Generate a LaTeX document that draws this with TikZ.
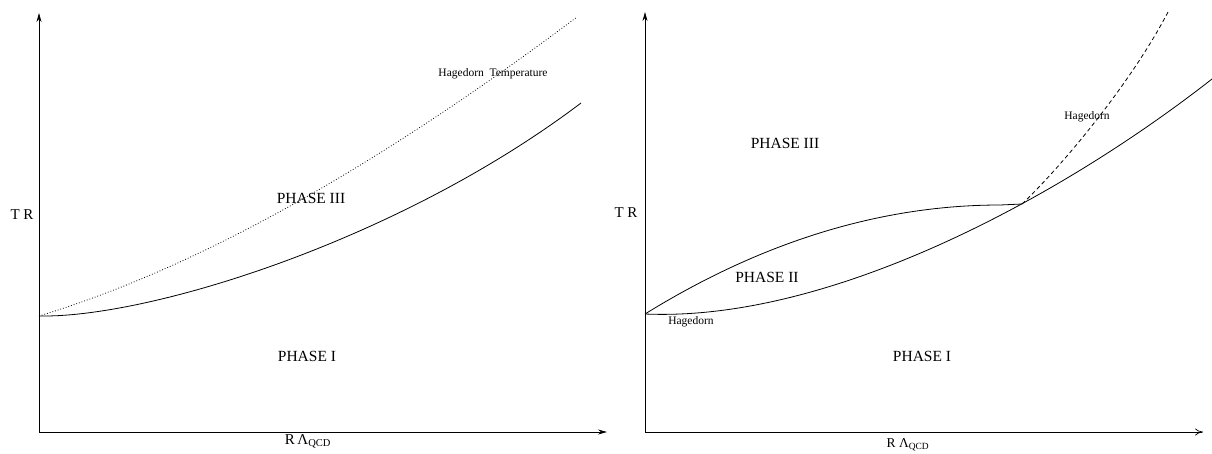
\documentclass[tikz,border=0pt]{standalone}
\usepackage{fontspec}
\setmainfont{Liberation Serif}
\usetikzlibrary{arrows.meta}

\begin{document}
\begin{tikzpicture}[
  x=1pt,y=-1pt,
  >={Stealth[length=9pt,width=5pt,inset=3pt]},
  axis/.style={->,line width=0.7pt,black},
  openaxis/.style={-{To[length=8pt,width=7pt]},line width=0.7pt,black},
  curve/.style={line width=0.8pt,black},
  hagedorn/.style={curve,dash pattern=on 0.8pt off 2pt},
  phase/.style={font=\fontsize{15.5}{18}\selectfont,inner sep=0pt},
  ylab/.style={font=\fontsize{15}{18}\selectfont,inner sep=0pt},
  xlab/.style={font=\fontsize{15}{18}\selectfont,inner sep=0pt},
  note/.style={font=\fontsize{11.5}{13}\selectfont,inner sep=0pt}
]
\useasboundingbox (0,0) rectangle (1212,453);

% ===================== left diagram =====================
\coordinate (lo) at (39,432);
\coordinate (ly) at (39,13);
\coordinate (lx) at (607,432);
\draw[axis] (lo) -- (ly);
\draw[axis] (lo) -- (lx);

% ---- phase boundaries ----
\coordinate (lstart) at (39,316);
\draw[hagedorn] (lstart) .. controls (194,269) and (373,170) .. (577,17);
\draw[curve] (lstart) .. controls (150,318) and (400,240) .. (581,103);

% ---- labels ----
\node[ylab] (trl) at (22,215) {T R};
\node[note] (htemp) at (493,74) {Hagedorn\ \ Temperature};
\node[phase] (p3l) at (311,198) {PHASE III};
\node[phase] (p1l) at (307,356) {PHASE I};
\node[xlab] (rll) at (308,441) {R\,Λ\textsubscript{QCD}};

% ===================== right diagram =====================
\coordinate (ro) at (645,432);
\coordinate (ry) at (645,12);
\coordinate (rx) at (1203,432);
\draw[axis] (ro) -- (ry);
\draw[openaxis] (ro) -- (rx);

% ---- phase boundaries ----
\coordinate (tri) at (645,314);
\coordinate (meet) at (1022,204);
\draw[curve] (tri) .. controls (763,241) and (882,205) .. (1000,205) -- (meet);
\draw[curve] (tri) .. controls (830,322) and (1060,198) .. (1212,79);
\draw[curve,dash pattern=on 4pt off 3pt] (meet) .. controls (1060,168) and (1130,85) .. (1168,12);

% ---- labels ----
\node[ylab] (trr) at (626,213) {T R};
\node[phase] (p3r) at (785,143) {PHASE III};
\node[phase] (p2r) at (767,277) {PHASE II};
\node[phase] (p1r) at (922,356) {PHASE I};
\node[note] (hlow) at (691,322) {Hagedorn};
\node[note] (hup) at (1087,117) {Hagedorn};
\node[xlab,font=\fontsize{13.5}{15}\selectfont] (rlr) at (908,445) {R\ Λ\textsubscript{QCD}};

\end{tikzpicture}
\end{document}
